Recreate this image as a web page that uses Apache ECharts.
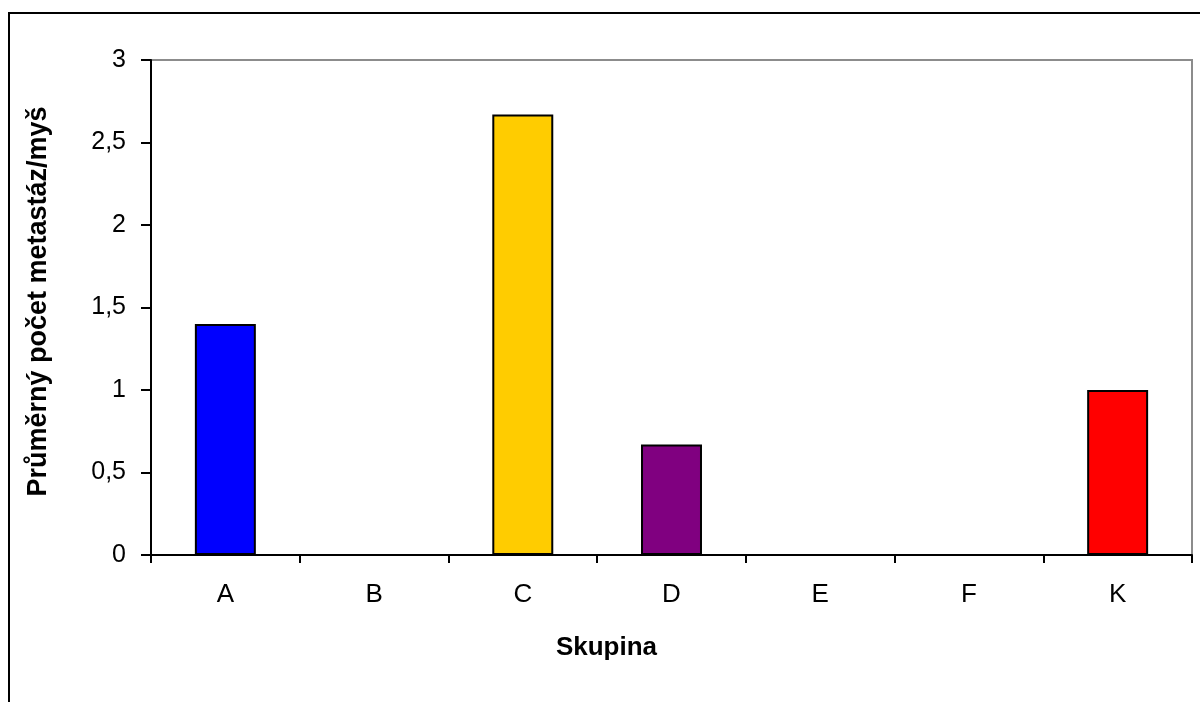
<!DOCTYPE html>
<html>
<head>
<meta charset="utf-8">
<style>
  html, body { margin: 0; padding: 0; background: #ffffff; }
  #chart { width: 1200px; height: 702px; }
</style>
<script src="https://cdn.jsdelivr.net/npm/echarts@6/dist/echarts.min.js"></script>
</head>
<body>
<div id="chart"></div>
<script>
// Mean number of metastases per mouse, by group
const categories = ['A', 'B', 'C', 'D', 'E', 'F', 'K'];
const values = [1.4, 0, 2.67, 0.67, 0, 0, 1.0];
const barColors = ['#0000ff', '#0000ff', '#ffcc00', '#800080', '#0000ff', '#0000ff', '#ff0000'];
const yTicks = [0, 0.5, 1, 1.5, 2, 2.5, 3];

const FONT = 'Liberation Sans, Arial, sans-serif';

const chart = echarts.init(document.getElementById('chart'), null, { renderer: 'canvas' });

chart.setOption({
  animation: false,
  backgroundColor: '#ffffff',
  graphic: [
    {
      // outer frame of the chart area
      type: 'rect',
      z: 100,
      shape: { x: 9, y: 13, width: 1220, height: 720 },
      style: { fill: null, stroke: '#000000', lineWidth: 2 }
    }
  ],
  grid: {
    left: 151,
    top: 60,
    right: 8,
    bottom: 147,
    show: true,
    borderColor: '#8c8c8c',
    borderWidth: 2,
    backgroundColor: '#ffffff'
  },
  xAxis: {
    type: 'category',
    data: categories,
    name: 'Skupina',
    nameLocation: 'middle',
    nameGap: 80,
    nameTextStyle: {
      fontFamily: FONT, fontSize: 26, fontWeight: 'bold', color: '#000000',
      padding: [0, 130, 0, 0]
    },
    axisLine: { lineStyle: { color: '#000000', width: 2 } },
    axisTick: { show: true, length: 8, lineStyle: { color: '#000000', width: 2 }, alignWithLabel: false },
    axisLabel: { fontFamily: FONT, fontSize: 26, color: '#000000', margin: 27 },
    splitLine: { show: false }
  },
  yAxis: {
    type: 'value',
    min: 0,
    max: 3,
    interval: 0.5,
    name: 'Průměrný počet metastáz/myš',
    nameLocation: 'middle',
    nameGap: 99,
    nameRotate: 90,
    nameTextStyle: {
      fontFamily: FONT, fontSize: 27, fontWeight: 'bold', color: '#000000',
      padding: [0, 0, 0, 12]
    },
    axisLine: { show: true, lineStyle: { color: '#000000', width: 2 } },
    axisTick: { show: true, length: 10, lineStyle: { color: '#000000', width: 2 } },
    axisLabel: {
      fontFamily: FONT,
      fontSize: 25,
      color: '#000000',
      margin: 25,
      formatter: v => yTicks.includes(v) ? String(v).replace('.', ',') : ''
    },
    splitLine: { show: false }
  },
  series: [
    {
      type: 'bar',
      data: values.map((v, i) => ({
        value: v,
        itemStyle: { color: barColors[i] }
      })),
      barWidth: '41%',
      itemStyle: { borderColor: '#000000', borderWidth: 2 }
    }
  ]
});
</script>
</body>
</html>
